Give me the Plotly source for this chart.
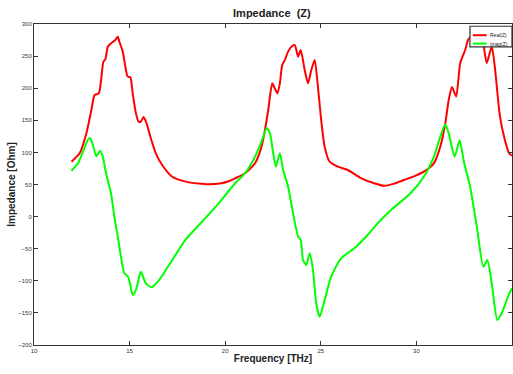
import plotly.graph_objects as go

# Frequency [THz] and Real(Z) [Ohm]
freq_re = [11.96, 12.39, 12.74, 13.0, 13.17, 13.39, 13.51, 13.63, 13.73, 13.86, 14.03, 14.15, 14.25, 14.38,
           14.47, 14.64, 14.81, 14.9, 15.04, 15.16, 15.33, 15.47, 15.59, 15.73, 15.89, 16.11, 16.37, 16.71,
           17.23, 17.93, 18.6, 19.14, 19.8, 20.18, 20.52, 21.04, 21.56, 21.9, 22.08, 22.25, 22.46, 22.59,
           22.73, 22.86, 22.98, 23.12, 23.29, 23.46, 23.64, 23.81, 23.95, 24.16, 24.33, 24.5, 24.68, 24.85,
           25.02, 25.2, 25.46, 25.89, 26.41, 27.1, 27.79, 28.31, 28.8, 29.35, 29.9, 30.39, 30.91, 31.25,
           31.51, 31.69, 31.86, 32.08, 32.29, 32.55, 32.7, 32.99, 33.16, 33.33, 33.5, 33.68, 33.94, 34.1,
           34.37, 34.63, 34.85, 35.0]
real_z = [85.5, 98.6, 129.7, 166, 189.4, 192, 212.8, 241.3, 245, 264.6, 270, 272.5, 275, 280,
          272, 257, 228, 218, 217, 192, 161, 148, 148, 155, 145, 122, 98.6, 80,
          62, 54.5, 51.5, 50.3, 52, 55, 59.6, 67.5, 83, 109, 135, 166, 207.6, 200,
          192, 207.6, 236, 244, 257, 264.6, 267, 249, 259.5, 228, 207.6, 228, 244, 202,
          150.5, 109, 85.5, 77.8, 72.6, 60, 52, 48, 51, 57, 63, 70, 83, 109,
          145, 181.6, 202, 187, 239, 259.5, 275, 285.5, 293, 293, 270, 239, 264.6, 233.5,
          156, 119, 98.6, 95]

# Frequency [THz] and Imag(Z) [Ohm]
freq_im = [11.96, 12.3, 12.56, 12.82, 12.94, 13.08, 13.26, 13.46, 13.6, 13.77, 14.03, 14.2, 14.38, 14.55,
           14.72, 14.9, 15.02, 15.16, 15.33, 15.59, 15.85, 16.16, 16.54, 17.23, 17.93, 18.79, 19.66,
           20.52, 21.04, 21.56, 21.9, 22.17, 22.34, 22.51, 22.65, 22.86, 23.03, 23.29, 23.55, 23.81,
           23.95, 24.07, 24.24, 24.42, 24.59, 24.76, 24.94, 25.2, 25.54, 26.06, 26.75, 27.45, 27.97,
           28.66, 29.69, 30.39, 30.91, 31.25, 31.51, 31.69, 32.0, 32.26, 32.5, 32.81, 33.16, 33.5,
           33.71, 33.94, 34.23, 34.46, 34.85, 35.0]
imag_z = [71.5, 83, 101, 120, 122, 111.5, 94, 102.6, 93, 67.5, 36, 0, -31, -62.5,
          -88, -92.5, -104, -122, -114, -86, -104, -110, -99, -67.6, -36, -8, 20.7,
          51.9, 67.5, 93.3, 116.7, 137.5, 129.7, 98.6, 77.8, 98.6, 72.6, 46.6, 5, -31,
          -36.4, -67.6, -75.4, -57, -83, -135, -156, -130, -93.6, -65, -49.4, -28.6, -10.5,
          10, 36.3, 62, 93, 124.5, 144, 129.7, 93.3, 119, 83, 46.6, -15.7, -78,
          -67.6, -104, -161, -150.6, -120, -112]

series_names = ["Real(Z)", "Imag(Z)"]
series_colors = ["#ff0000", "#00ff00"]

x_ticks = [10, 15, 20, 25, 30, 35]
y_ticks = [-200, -150, -100, -50, 0, 50, 100, 150, 200, 250, 300]

FONT = "Liberation Sans, Arial, sans-serif"

fig = go.Figure()
for xs, ys, name, color in [(freq_re, real_z, series_names[0], series_colors[0]),
                            (freq_im, imag_z, series_names[1], series_colors[1])]:
    fig.add_trace(go.Scatter(x=xs, y=ys, mode="lines", name=name, showlegend=False,
                             line=dict(color=color, width=2, shape="spline", smoothing=0.6)))

axis_common = dict(showgrid=False, zeroline=False, showline=True, linecolor="#333333", linewidth=1,
                   mirror="ticks", ticks="inside", ticklen=4, tickcolor="#333333",
                   tickfont=dict(family=FONT, size=6, color="#333333"))

# compact MATLAB-style legend box (paper coordinates, decoration only)
shapes = [dict(type="rect", xref="paper", yref="paper", x0=0.912, x1=1.0, y0=0.929, y1=0.993,
               fillcolor="white", line=dict(color="#333333", width=1.2), layer="above")]
annotations = []
for i, (name, color) in enumerate(zip(series_names, series_colors)):
    yy = 0.965 - i * 0.026
    shapes.append(dict(type="line", xref="paper", yref="paper", x0=0.918, x1=0.947, y0=yy, y1=yy,
                       line=dict(color=color, width=2), layer="above"))
    annotations.append(dict(xref="paper", yref="paper", x=0.950, y=yy, text=name, showarrow=False,
                            xanchor="left", yanchor="middle",
                            font=dict(family=FONT, size=5, color="#222222")))

fig.update_layout(
    width=513, height=374,
    margin=dict(l=34, r=1, t=24, b=29),
    paper_bgcolor="white", plot_bgcolor="white",
    title=dict(text="<b>Impedance  (Z)</b>", x=0.53, xanchor="center", y=0.965, yanchor="middle",
               font=dict(family=FONT, size=11, color="#222222")),
    xaxis=dict(range=[10, 35], tickvals=x_ticks,
               title=dict(text="<b>Frequency [THz]</b>", font=dict(family=FONT, size=10, color="#222222"),
                          standoff=1),
               **axis_common),
    yaxis=dict(range=[-200, 300], tickvals=y_ticks,
               title=dict(text="<b>Impedance [Ohm]</b>", font=dict(family=FONT, size=10, color="#222222"),
                          standoff=0),
               **axis_common),
    shapes=shapes,
    annotations=annotations,
    showlegend=False,
)

fig.write_html("out.html")
